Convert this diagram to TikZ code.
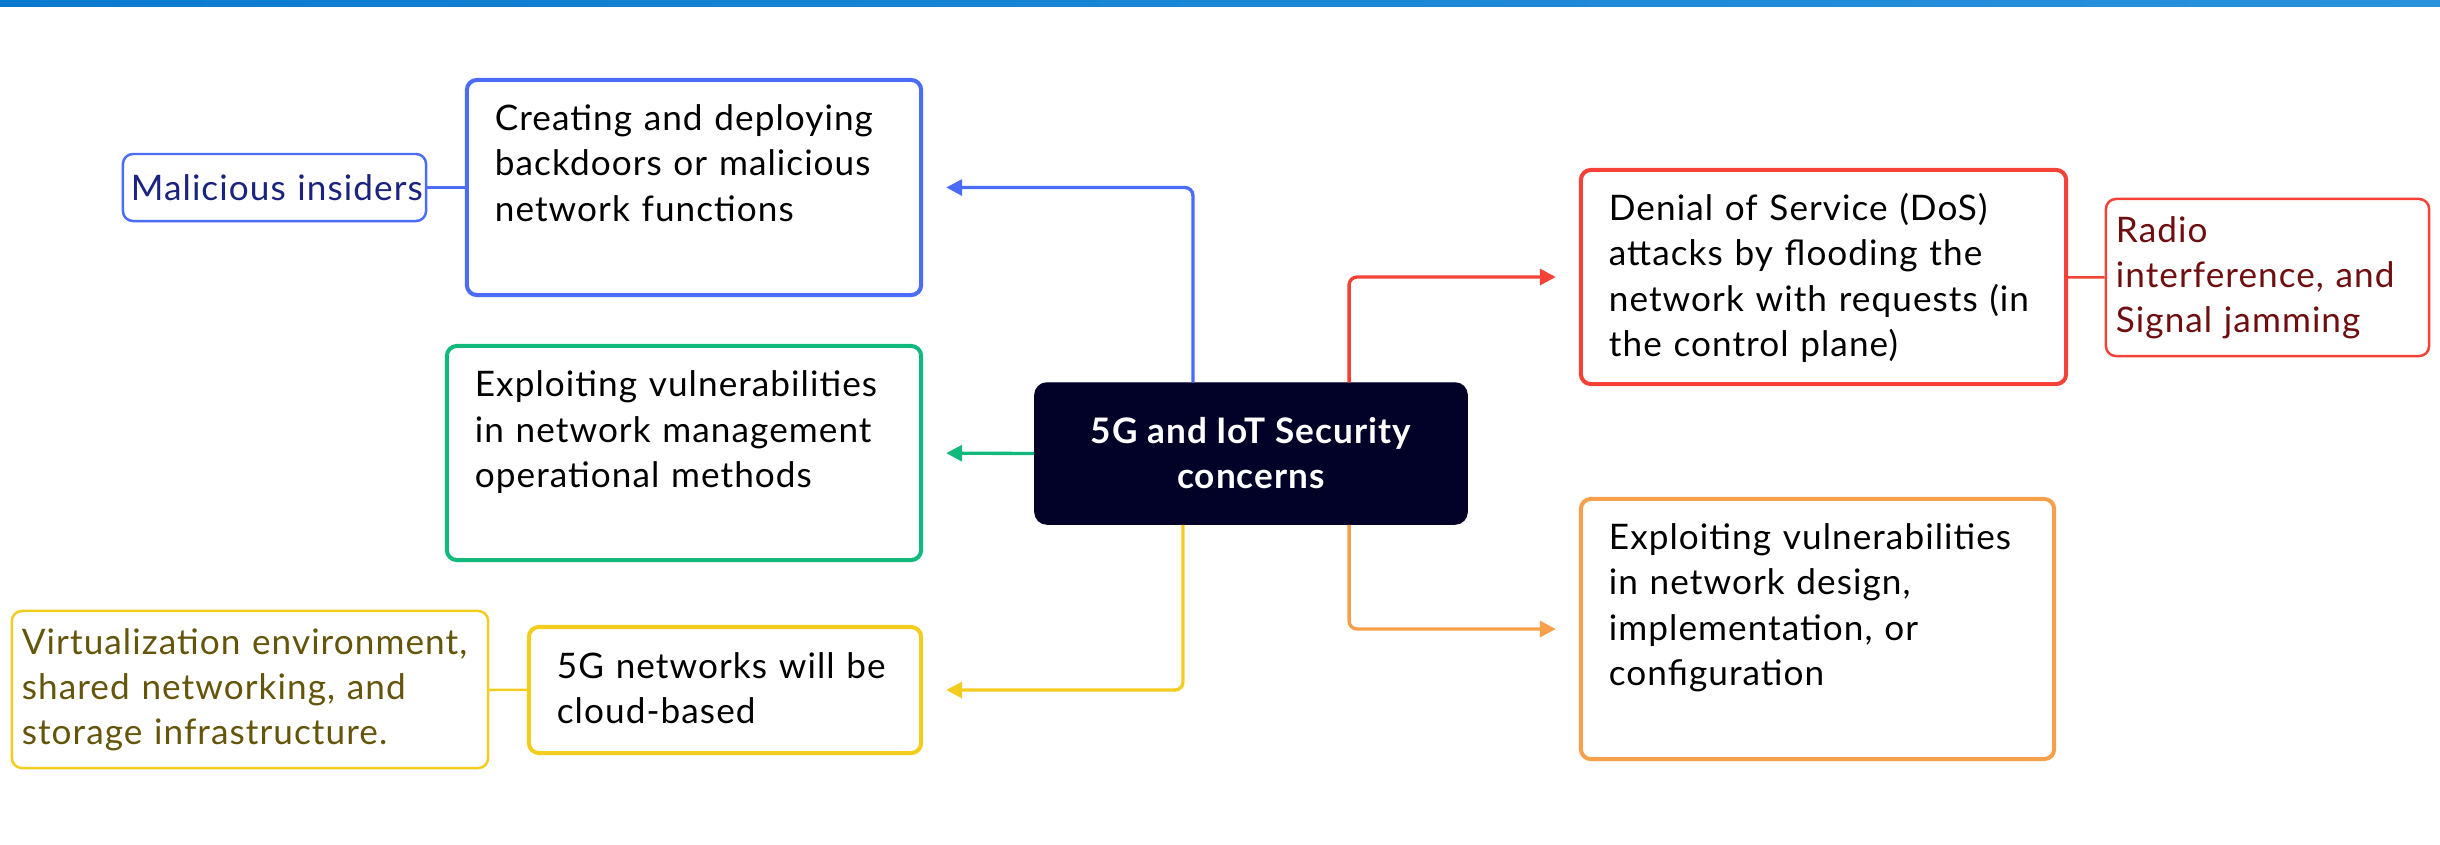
\documentclass[tikz,border=0pt]{standalone}
\usepackage{fontspec}
\setmainfont{Lato}[LetterSpace=3]
\usepackage{tikz}
\usepackage{xcolor}
\usetikzlibrary{arrows.meta}
\definecolor{mmblue}{RGB}{74, 108, 247}
\definecolor{mmgreen}{RGB}{18, 185, 125}
\definecolor{mmyellow}{RGB}{242, 205, 30}
\definecolor{mmred}{RGB}{244, 67, 54}
\definecolor{mmorange}{RGB}{247, 160, 75}
\definecolor{mmcore}{RGB}{2, 2, 40}
\definecolor{mmbluetext}{RGB}{26, 35, 126}
\definecolor{mmyellowtext}{RGB}{100, 85, 10}
\definecolor{mmredtext}{RGB}{110, 14, 14}
\definecolor{mmbarl}{RGB}{10, 122, 208}
\definecolor{mmbarr}{RGB}{40, 146, 220}
\tikzset{
    mmbox/.style={draw, line width=1.15pt, rounded corners=0.1cm, align=left, inner xsep=0.28cm, inner ysep=0.26cm, text height=0.25cm},
    subbox/.style={draw, line width=0.7pt, rounded corners=0.1cm, align=left, inner xsep=0.1cm, inner ysep=0pt},
    corenode/.style={fill=mmcore, draw=mmcore, rounded corners=0.12cm, text=white, font=\fontsize{10}{12.8}\selectfont\bfseries, align=center, minimum width=4.32cm, minimum height=1.41cm},
    branch/.style={line width=0.95pt, rounded corners=0.08cm, shorten >=0.23cm, -{Triangle[length=0.16cm, width=0.16cm]}},
    twig/.style={line width=0.7pt}
}

\begin{document}
\begin{tikzpicture}[x=0.01cm, y=-0.01cm, font=\fontsize{10}{12.8}\selectfont]
                    \useasboundingbox (0,0) rectangle (2440,844);
                    \shade[left color=mmbarl, right color=mmbarr] (0,0) rectangle (2440,6);

                    \node[corenode] (core) at (1251,453.5) {5G and IoT Security\\concerns};
                    \node[mmbox, draw=mmblue, text width=3.98cm, text depth=1.38cm] (create) at (694,187.5) {Creating and deploying\\backdoors or malicious\\network functions};
                    \node[mmbox, draw=mmgreen, text width=4.18cm, text depth=1.37cm] (manage) at (684,453) {Exploiting vulnerabilities\\in network management\\operational methods};
                    \node[mmbox, draw=mmyellow, text width=3.36cm, text depth=0.49cm] (cloud) at (725,690) {5G networks will be\\cloud-based};
                    \node[mmbox, draw=mmred, text width=4.29cm, text depth=1.37cm] (dos) at (1823.5,277) {Denial of Service (DoS)\\attacks by flooding the\\network with requests (in\\the control plane)};
                    \node[mmbox, draw=mmorange, text width=4.17cm, text depth=1.83cm] (design) at (1817.5,629) {Exploiting vulnerabilities\\in network design,\\implementation, or\\configuration};

                    \node[subbox, draw=mmblue, text=mmbluetext, inner xsep=0.08cm, text width=2.87cm, minimum height=0.67cm] (insiders) at (274.5,187.5) {\mbox{Malicious insiders}};
                    \node[subbox, draw=mmyellow, text=mmyellowtext, text width=4.56cm, minimum height=1.57cm] (virt) at (250,689.5) {Virtualization environment,\\shared networking, and\\storage infrastructure.};
                    \node[subbox, draw=mmred, text=mmredtext, text width=3.03cm, minimum height=1.57cm] (radio) at (2267.5,277.5) {Radio\\interference, and\\Signal jamming};

                    \draw[branch, mmblue] ([xshift=-0.58cm]core.north) |- (create.east);
                    \draw[branch, mmgreen] (core.west) -- (manage.east);
                    \draw[branch, mmyellow] ([xshift=-0.68cm]core.south) |- (cloud.east);
                    \draw[branch, mmred] ([xshift=0.98cm]core.north) |- (dos.west);
                    \draw[branch, mmorange] ([xshift=0.98cm]core.south) |- (design.west);

                    \draw[twig, mmblue] (insiders) -- (create);
                    \draw[twig, mmyellow] (virt) -- (cloud);
                    \draw[twig, mmred] (dos) -- (radio);
                \end{tikzpicture}
\end{document}
